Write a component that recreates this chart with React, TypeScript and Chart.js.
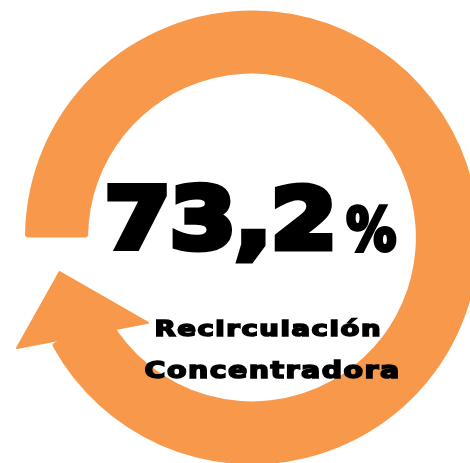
import React, { useEffect, useRef } from 'react';
import { Chart, registerables } from 'chart.js';

Chart.register(...registerables);

// Data
const ringLabels = ['Recirculación', 'Hueco'];
const ringDegrees = [332, 28];
const valueText = '73,2';
const unitText = '%';
const captionLines = ['Recirculación', 'Concentradora'];

const ORANGE = '#F7984A';
const FAMILY = '"DejaVu Sans", sans-serif';

function fitText(
  ctx: CanvasRenderingContext2D,
  text: string,
  refText: string,
  left: number,
  right: number,
  top: number,
  base: number,
  sw: number,
  spacing: number
) {
  ctx.save();
  (ctx as any).letterSpacing = '0px';
  ctx.font = `bold 100px ${FAMILY}`;
  const ref = ctx.measureText(refText);
  const size = ((base - top - sw) / ref.actualBoundingBoxAscent) * 100;
  ctx.font = `bold ${size}px ${FAMILY}`;
  (ctx as any).letterSpacing = `${spacing}px`;
  const m = ctx.measureText(text);
  const inkW = m.actualBoundingBoxLeft + m.actualBoundingBoxRight;
  const sx = (right - left - sw) / inkW;
  ctx.translate(left + sw / 2, base - sw / 2);
  ctx.scale(sx, 1);
  ctx.textAlign = 'left';
  ctx.textBaseline = 'alphabetic';
  ctx.fillStyle = '#000';
  ctx.fillText(text, m.actualBoundingBoxLeft, 0);
  if (sw > 0) {
    ctx.lineJoin = 'miter';
    ctx.lineWidth = sw;
    ctx.strokeStyle = '#000';
    ctx.strokeText(text, m.actualBoundingBoxLeft, 0);
  }
  ctx.restore();
}

const arrowAndTextPlugin = {
  id: 'arrowAndText',
  afterDatasetsDraw(chart: any) {
    const arc: any = chart.getDatasetMeta(0).data[0];
    if (!arc) return;
    const { x, y, outerRadius: R, innerRadius: r, endAngle: E } = arc;
    const deg = Math.PI / 180;
    const pt = (rad: number, ang: number) => [x + rad * Math.cos(ang), y + rad * Math.sin(ang)];
    const tip = pt((R + r) / 2, E + 17.8 * deg);
    const outer = pt(R + 32.7, E + 2.8 * deg);
    const inner = pt(r - 29.4, E - 11.4 * deg);
    const ctx: CanvasRenderingContext2D = chart.ctx;
    ctx.save();
    ctx.beginPath();
    ctx.moveTo(outer[0], outer[1]);
    ctx.lineTo(tip[0], tip[1]);
    ctx.lineTo(inner[0], inner[1]);
    ctx.closePath();
    ctx.fillStyle = ORANGE;
    ctx.fill();
    ctx.lineJoin = 'round';
    ctx.lineWidth = 2;
    ctx.strokeStyle = ORANGE;
    ctx.stroke();
    ctx.restore();

    // center texts
    fitText(ctx, valueText, '7', x - 145, x + 80, y - 54.5, y + 13.5, 7, 0);
    fitText(ctx, unitText, unitText, x + 93, x + 145, y - 34.5, y + 14, 4, 0);
    fitText(ctx, captionLines[0], 'R', x - 97, x + 128, y + 82.5, y + 99.5, 1.6, 1.2);
    fitText(ctx, captionLines[1], 'C', x - 107, x + 146, y + 122.5, y + 141.5, 1.6, 1.2);
  },
};

export default function App() {
  const canvasRef = useRef<HTMLCanvasElement | null>(null);

  useEffect(() => {
    if (!canvasRef.current) return;
    const chart = new Chart(canvasRef.current, {
      type: 'doughnut',
      data: {
        labels: ringLabels,
        datasets: [
          {
            data: ringDegrees,
            backgroundColor: [ORANGE, 'rgba(0,0,0,0)'],
            borderWidth: 0,
            borderRadius: 3,
            hoverOffset: 0,
          },
        ],
      },
      options: {
        responsive: false,
        animation: false,
        events: [],
        rotation: 270,
        circumference: 360,
        cutout: '72.2%',
        layout: { padding: { left: 25, right: 25, top: 10.5, bottom: 10.5 } },
        plugins: {
          legend: { display: false },
          tooltip: { enabled: false },
        },
      },
      plugins: [arrowAndTextPlugin],
    });
    return () => chart.destroy();
  }, []);

  return (
    <div
      style={{
        position: 'fixed',
        left: 0,
        top: 0,
        width: 470,
        height: 463,
        overflow: 'hidden',
        background: '#fff',
      }}
    >
      <canvas ref={canvasRef} width={504} height={475} style={{ display: 'block' }} />
    </div>
  );
}
